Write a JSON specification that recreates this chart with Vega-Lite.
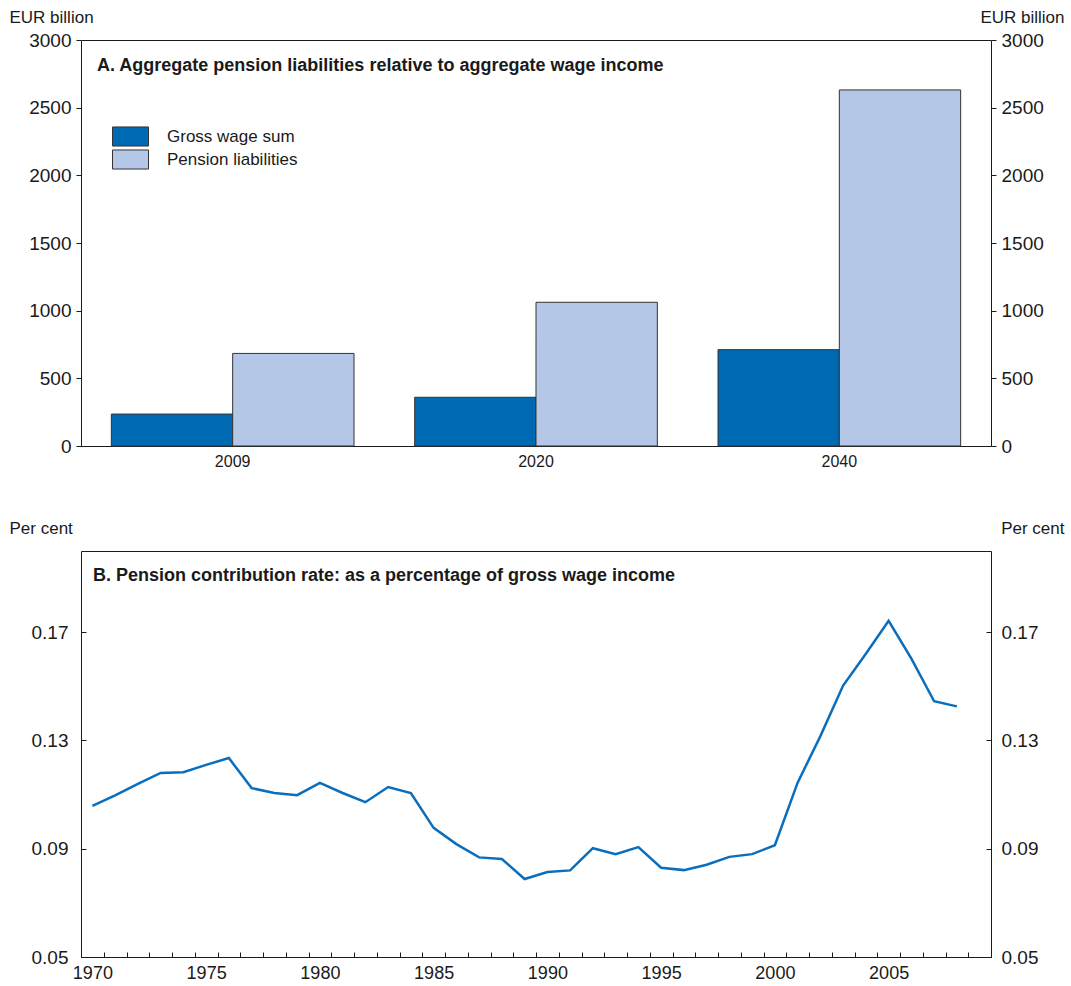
{
  "$schema": "https://vega.github.io/schema/vega-lite/v6.json",
  "padding": {"left": 8, "top": 7, "right": 8, "bottom": 5},
  "background": "white",
  "spacing": 48,
  "config": {
    "font": "Liberation Sans",
    "view": {"stroke": "#1a1a1a", "strokeWidth": 1},
    "axis": {
      "labelFont": "Liberation Sans",
      "labelColor": "#1a1a1a",
      "tickColor": "#1a1a1a",
      "grid": false,
      "domain": false,
      "titleFont": "Liberation Sans",
      "titleFontWeight": "normal",
      "titleColor": "#1a1a1a"
    },
    "legend": {"labelFont": "Liberation Sans", "labelColor": "#1a1a1a"}
  },
  "vconcat": [
    {
      "width": 910,
      "height": 406,
      "title": {
        "text": "A. Aggregate pension liabilities relative to aggregate wage income",
        "anchor": "start",
        "frame": "group",
        "offset": -67,
        "dx": 16,
        "fontSize": 18,
        "fontWeight": "bold",
        "color": "#1a1a1a"
      },
      "data": {
        "values": [
          {"year": "2009", "series": "Gross wage sum", "value": 236},
          {"year": "2009", "series": "Pension liabilities", "value": 684},
          {"year": "2020", "series": "Gross wage sum", "value": 360},
          {"year": "2020", "series": "Pension liabilities", "value": 1062},
          {"year": "2040", "series": "Gross wage sum", "value": 712},
          {"year": "2040", "series": "Pension liabilities", "value": 2631}
        ]
      },
      "layer": [
        {
          "mark": {"type": "bar", "stroke": "#333333", "strokeWidth": 1},
          "encoding": {
            "x": {
              "field": "year", "type": "ordinal",
              "scale": {"paddingInner": 0.2, "paddingOuter": 0.1},
              "axis": {"title": null, "labelAngle": 0, "ticks": false, "labelPadding": 7, "labelFontSize": 16}
            },
            "xOffset": {
              "field": "series", "type": "nominal",
              "scale": {"paddingInner": 0, "paddingOuter": 0}
            },
            "y": {
              "field": "value", "type": "quantitative",
              "scale": {"domain": [0, 3000], "nice": false},
              "axis": {
                "orient": "left",
                "values": [0, 500, 1000, 1500, 2000, 2500, 3000],
                "format": "d",
                "tickSize": 5,
                "labelPadding": 5,
                "labelFontSize": 19,
                "title": "EUR billion",
                "titleAngle": 0,
                "titleAlign": "left",
                "titleBaseline": "alphabetic",
                "titleX": -72,
                "titleY": -18,
                "titleFontSize": 17
              }
            },
            "color": {
              "field": "series", "type": "nominal",
              "scale": {"domain": ["Gross wage sum", "Pension liabilities"], "range": ["#0069b4", "#b4c7e7"]},
              "legend": {
                "title": null,
                "orient": "none",
                "legendX": 40,
                "legendY": 87,
                "symbolType": "M-2,-1.06H2V1.06H-2Z",
                "symbolSize": 324,
                "symbolStrokeColor": "#333333",
                "symbolStrokeWidth": 1,
                "symbolOpacity": 1,
                "labelFontSize": 17,
                "labelOffset": 27,
                "rowPadding": -2
              }
            }
          }
        },
        {
          "mark": {"type": "bar", "opacity": 0},
          "encoding": {
            "x": {"field": "year", "type": "ordinal"},
            "xOffset": {"field": "series", "type": "nominal"},
            "y": {
              "field": "value", "type": "quantitative",
              "axis": {
                "orient": "right",
                "values": [0, 500, 1000, 1500, 2000, 2500, 3000],
                "format": "d",
                "tickSize": 5,
                "labelPadding": 5,
                "labelFontSize": 19,
                "title": "EUR billion",
                "titleAngle": 0,
                "titleAlign": "right",
                "titleBaseline": "alphabetic",
                "titleX": 73,
                "titleY": -18,
                "titleFontSize": 17
              }
            }
          }
        }
      ],
      "resolve": {"axis": {"y": "independent"}}
    },
    {
      "width": 910,
      "height": 406,
      "title": {
        "text": "B. Pension contribution rate: as a percentage of gross wage income",
        "anchor": "start",
        "frame": "group",
        "offset": -66,
        "dx": 12,
        "fontSize": 18,
        "fontWeight": "bold",
        "color": "#1a1a1a"
      },
      "data": {
        "values": [
          {"year": 1970, "rate": 0.1058},
          {"year": 1971, "rate": 0.1097},
          {"year": 1972, "rate": 0.1140},
          {"year": 1973, "rate": 0.1180},
          {"year": 1974, "rate": 0.1183},
          {"year": 1975, "rate": 0.1210},
          {"year": 1976, "rate": 0.1235},
          {"year": 1977, "rate": 0.1124},
          {"year": 1978, "rate": 0.1106},
          {"year": 1979, "rate": 0.1098},
          {"year": 1980, "rate": 0.1143},
          {"year": 1981, "rate": 0.1106},
          {"year": 1982, "rate": 0.1072},
          {"year": 1983, "rate": 0.1128},
          {"year": 1984, "rate": 0.1106},
          {"year": 1985, "rate": 0.0977},
          {"year": 1986, "rate": 0.0917},
          {"year": 1987, "rate": 0.0868},
          {"year": 1988, "rate": 0.0862},
          {"year": 1989, "rate": 0.0788},
          {"year": 1990, "rate": 0.0814},
          {"year": 1991, "rate": 0.0820},
          {"year": 1992, "rate": 0.0902},
          {"year": 1993, "rate": 0.0880},
          {"year": 1994, "rate": 0.0906},
          {"year": 1995, "rate": 0.0830},
          {"year": 1996, "rate": 0.0821},
          {"year": 1997, "rate": 0.0841},
          {"year": 1998, "rate": 0.0870},
          {"year": 1999, "rate": 0.0880},
          {"year": 2000, "rate": 0.0913},
          {"year": 2001, "rate": 0.1144},
          {"year": 2002, "rate": 0.1316},
          {"year": 2003, "rate": 0.1503},
          {"year": 2004, "rate": 0.1620},
          {"year": 2005, "rate": 0.1742},
          {"year": 2006, "rate": 0.1602},
          {"year": 2007, "rate": 0.1445},
          {"year": 2008, "rate": 0.1426}
        ]
      },
      "layer": [
        {
          "mark": {"type": "line", "color": "#0a6ebd", "strokeWidth": 2.5},
          "encoding": {
            "x": {
              "field": "year", "type": "ordinal", "bandPosition": 0.5,
              "scale": {
                "type": "band",
                "domain": [1970, 1971, 1972, 1973, 1974, 1975, 1976, 1977, 1978, 1979, 1980, 1981, 1982, 1983, 1984, 1985, 1986, 1987, 1988, 1989, 1990, 1991, 1992, 1993, 1994, 1995, 1996, 1997, 1998, 1999, 2000, 2001, 2002, 2003, 2004, 2005, 2006, 2007, 2008, 2009],
                "paddingInner": 0, "paddingOuter": 0
              },
              "axis": {
                "title": null, "labelAngle": 0, "tickBand": "extent", "tickSize": -5,
                "labelPadding": 12, "labelFontSize": 18,
                "labelExpr": "datum.value % 5 == 0 ? datum.value : ''"
              }
            },
            "y": {
              "field": "rate", "type": "quantitative",
              "scale": {"domain": [0.05, 0.2], "nice": false, "zero": false},
              "axis": {
                "orient": "left",
                "values": [0.05, 0.09, 0.13, 0.17],
                "format": ".2f",
                "tickSize": -5,
                "labelPadding": 18,
                "labelFontSize": 19,
                "title": "Per cent",
                "titleAngle": 0,
                "titleAlign": "left",
                "titleBaseline": "alphabetic",
                "titleX": -72,
                "titleY": -18,
                "titleFontSize": 17
              }
            }
          }
        },
        {
          "mark": {"type": "line", "opacity": 0},
          "encoding": {
            "x": {"field": "year", "type": "ordinal", "bandPosition": 0.5},
            "y": {
              "field": "rate", "type": "quantitative",
              "axis": {
                "orient": "right",
                "values": [0.05, 0.09, 0.13, 0.17],
                "format": ".2f",
                "tickSize": -5,
                "labelPadding": 15,
                "labelFontSize": 19,
                "title": "Per cent",
                "titleAngle": 0,
                "titleAlign": "right",
                "titleBaseline": "alphabetic",
                "titleX": 73,
                "titleY": -18,
                "titleFontSize": 17
              }
            }
          }
        }
      ],
      "resolve": {"axis": {"y": "independent"}}
    }
  ]
}
